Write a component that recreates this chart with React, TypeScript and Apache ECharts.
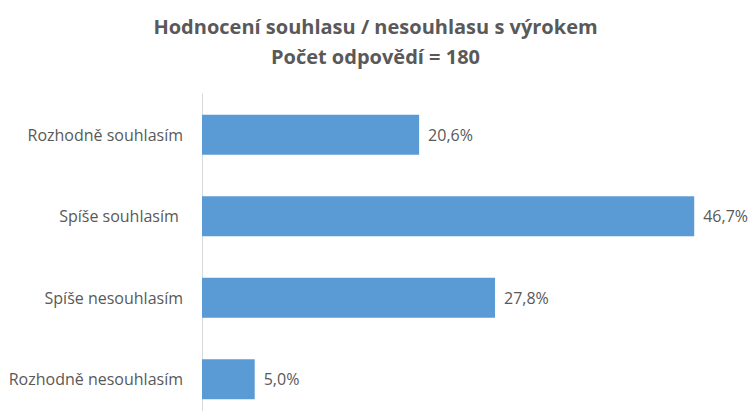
import React, { useEffect, useRef } from "react";
import * as echarts from "echarts";

const categories = [
  "Rozhodně souhlasím",
  "Spíše souhlasím ",
  "Spíše nesouhlasím",
  "Rozhodně nesouhlasím",
];
const values = [20.6, 46.7, 27.8, 5.0];
const titleLines = ["Hodnocení souhlasu / nesouhlasu s výrokem", "Počet odpovědí = 180"];

const FONT = "Open Sans";

export default function App() {
  const ref = useRef<HTMLDivElement>(null);
  useEffect(() => {
    if (!ref.current) return;
    const chart = echarts.init(ref.current, null, { renderer: "svg" });
    chart.setOption({
      animation: false,
      backgroundColor: "#ffffff",
      title: {
        text: titleLines.join("\n"),
        left: "center",
        top: 6,
        textStyle: {
          fontFamily: FONT,
          fontSize: 20,
          fontWeight: "bold",
          color: "#595959",
          lineHeight: 30,
        },
      },
      grid: { left: 202, right: 22, top: 94, bottom: 10, containLabel: false },
      xAxis: {
        type: "value",
        min: 0,
        max: 50,
        show: false,
        splitLine: { show: false },
      },
      yAxis: {
        type: "category",
        inverse: true,
        data: categories,
        axisLine: { show: true, lineStyle: { color: "#d9d9d9", width: 1 } },
        axisTick: { show: false },
        axisLabel: {
          margin: 19,
          fontFamily: FONT,
          fontSize: 16,
          color: "#595959",
        },
      },
      series: [
        {
          type: "bar",
          data: values,
          barWidth: 40,
          itemStyle: { color: "#5B9BD5" },
          label: {
            show: true,
            position: "right",
            distance: 9,
            fontFamily: FONT,
            fontSize: 16,
            color: "#595959",
            formatter: (p: any) => p.value.toFixed(1).replace(".", ",") + "%",
          },
        },
      ],
    });
    return () => chart.dispose();
  }, []);
  return (
    <div style={{ position: "fixed", left: 0, top: 0, width: 751, height: 411, overflow: "hidden" }}>
      <div ref={ref} style={{ width: 751, height: 430 }} />
    </div>
  );
}
